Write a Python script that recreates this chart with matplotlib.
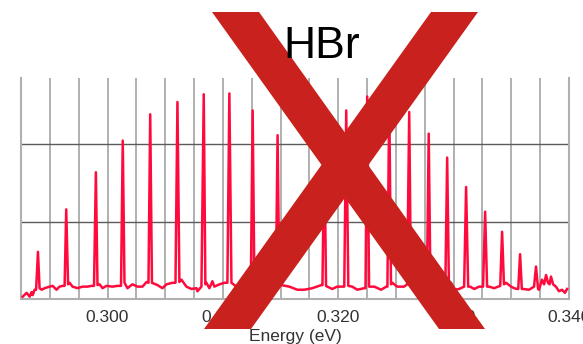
import numpy as np
import matplotlib.pyplot as plt
from matplotlib.patches import Polygon

# --- data (HBr rovibrational band) ---
energy_ev = [
    0.29264, 0.29299, 0.29325, 0.29342, 0.29351, 0.29368, 0.29381, 0.29397, 0.29411, 0.29429,
    0.29455, 0.29498, 0.29524, 0.29558, 0.29584, 0.29610, 0.29628, 0.29642, 0.29658, 0.29671,
    0.29697, 0.29740, 0.29784, 0.29827, 0.29861, 0.29883, 0.29899, 0.29913, 0.29931, 0.29957,
    0.29991, 0.30043, 0.30087, 0.30117, 0.30132, 0.30147, 0.30173, 0.30216, 0.30260, 0.30303,
    0.30338, 0.30355, 0.30370, 0.30385, 0.30433, 0.30476, 0.30511, 0.30563, 0.30589, 0.30606,
    0.30623, 0.30641, 0.30684, 0.30727, 0.30771, 0.30779, 0.30814, 0.30834, 0.30848, 0.30857,
    0.30883, 0.30909, 0.30926, 0.30970, 0.31013, 0.31039, 0.31056, 0.31074, 0.31117, 0.31169,
    0.31212, 0.31242, 0.31258, 0.31273, 0.31290, 0.31333, 0.31385, 0.31429, 0.31459, 0.31474,
    0.31489, 0.31507, 0.31576, 0.31645, 0.31706, 0.31775, 0.31853, 0.31863, 0.31879, 0.31894,
    0.31905, 0.31948, 0.31991, 0.32052, 0.32069, 0.32087, 0.32121, 0.32165, 0.32225, 0.32236,
    0.32251, 0.32267, 0.32312, 0.32372, 0.32416, 0.32426, 0.32442, 0.32457, 0.32468, 0.32511,
    0.32571, 0.32597, 0.32615, 0.32630, 0.32641, 0.32684, 0.32745, 0.32768, 0.32784, 0.32799,
    0.32814, 0.32857, 0.32918, 0.32928, 0.32944, 0.32959, 0.32978, 0.33004, 0.33048, 0.33091,
    0.33108, 0.33126, 0.33143, 0.33178, 0.33221, 0.33255, 0.33273, 0.33290, 0.33307, 0.33351,
    0.33385, 0.33404, 0.33420, 0.33436, 0.33455, 0.33498, 0.33524, 0.33550, 0.33560, 0.33576,
    0.33591, 0.33602, 0.33654, 0.33697, 0.33714, 0.33732, 0.33740, 0.33766, 0.33784, 0.33801,
    0.33818, 0.33831, 0.33844, 0.33862, 0.33887, 0.33913, 0.33939, 0.33965, 0.33983,
]
signal = [
    0.03, 0.08, 0.03, 0.09, 0.05, 0.12, 0.12, 0.61, 0.14, 0.12,
    0.14, 0.16, 0.17, 0.12, 0.16, 0.17, 0.17, 1.16, 0.19, 0.21,
    0.16, 0.14, 0.16, 0.16, 0.17, 0.17, 1.64, 0.18, 0.19, 0.14,
    0.17, 0.16, 0.17, 0.17, 2.05, 0.21, 0.14, 0.19, 0.16, 0.16,
    0.22, 0.21, 2.39, 0.21, 0.18, 0.14, 0.19, 0.21, 0.21, 2.55,
    0.22, 0.25, 0.16, 0.13, 0.14, 0.10, 0.16, 2.65, 0.19, 0.21,
    0.14, 0.23, 0.16, 0.19, 0.21, 0.21, 2.66, 0.21, 0.16, 0.13,
    0.16, 0.16, 2.44, 0.19, 0.21, 0.14, 0.13, 0.16, 0.17, 2.12,
    0.18, 0.18, 0.16, 0.12, 0.12, 0.14, 0.18, 0.18, 2.07, 0.17,
    0.16, 0.13, 0.16, 0.16, 2.44, 0.17, 0.16, 0.12, 0.14, 0.14,
    2.62, 0.16, 0.16, 0.12, 0.16, 0.16, 2.60, 0.19, 0.21, 0.16,
    0.16, 0.19, 2.42, 0.19, 0.19, 0.16, 0.16, 0.16, 2.14, 0.19,
    0.21, 0.16, 0.16, 0.18, 1.83, 0.19, 0.21, 0.12, 0.13, 0.16,
    1.45, 0.16, 0.16, 0.13, 0.16, 0.16, 1.13, 0.16, 0.16, 0.14,
    0.16, 0.17, 0.87, 0.19, 0.21, 0.16, 0.14, 0.13, 0.13, 0.58,
    0.13, 0.13, 0.12, 0.16, 0.42, 0.13, 0.12, 0.25, 0.19, 0.31,
    0.21, 0.19, 0.29, 0.19, 0.16, 0.10, 0.12, 0.08, 0.13,
]
tick_values = [0.300, 0.310, 0.320, 0.330, 0.340]
tick_labels = ['0.300', '0.310', '0.320', '0.330', '0.340']

plt.rcParams['font.family'] = ['Liberation Sans', 'DejaVu Sans']

fig = plt.figure(figsize=(5.83, 3.44), dpi=100)
ax = fig.add_axes([21 / 583, 45 / 344, 548 / 583, 221 / 344])

ax.plot(energy_ev, signal, color='#ff0a3c', linewidth=1.8, solid_joinstyle='round', zorder=3)

ax.set_xlim(0.2925, 0.340)
ax.set_ylim(0, 2.86)

# vertical grid every 0.0025 eV, labels every 0.01 eV
ax.set_xticks(tick_values)
ax.set_xticklabels(tick_labels, fontsize=12.5, color='#333333')
ax.set_xticks(np.arange(0.2925, 0.34001, 0.0025), minor=True)
ax.set_yticks([1, 2])
ax.set_yticklabels([])
ax.tick_params(axis='both', which='both', length=0)
ax.tick_params(axis='x', pad=8)
ax.grid(True, axis='x', which='both', color='#b0b0b0', linewidth=1.4)
ax.grid(True, axis='y', which='major', color='#5a5a5a', linewidth=1.0)

ax.spines['top'].set_visible(False)
for side in ['left', 'right', 'bottom']:
    ax.spines[side].set_color('#b0b0b0')
    ax.spines[side].set_linewidth(1.5)

ax.set_xlabel('Energy (eV)', fontsize=12.5, color='#333333', labelpad=3)

# big red cross laid over the chart
cross_color = '#c9221e'
strokes = [
    [(212, 12), (259, 12), (485, 329), (439, 329)],
    [(431, 12), (478, 12), (251, 329), (204, 329)],
]
for pts in strokes:
    poly = Polygon([(x / 583, 1 - y / 344) for x, y in pts], closed=True,
                   transform=fig.transFigure, facecolor=cross_color,
                   edgecolor='none', zorder=10)
    fig.add_artist(poly)

fig.text(322 / 583, 1 - 46 / 344, 'HBr', fontsize=32, ha='center', va='center',
         color='black', zorder=11)

fig.savefig('out.png', dpi=100)
